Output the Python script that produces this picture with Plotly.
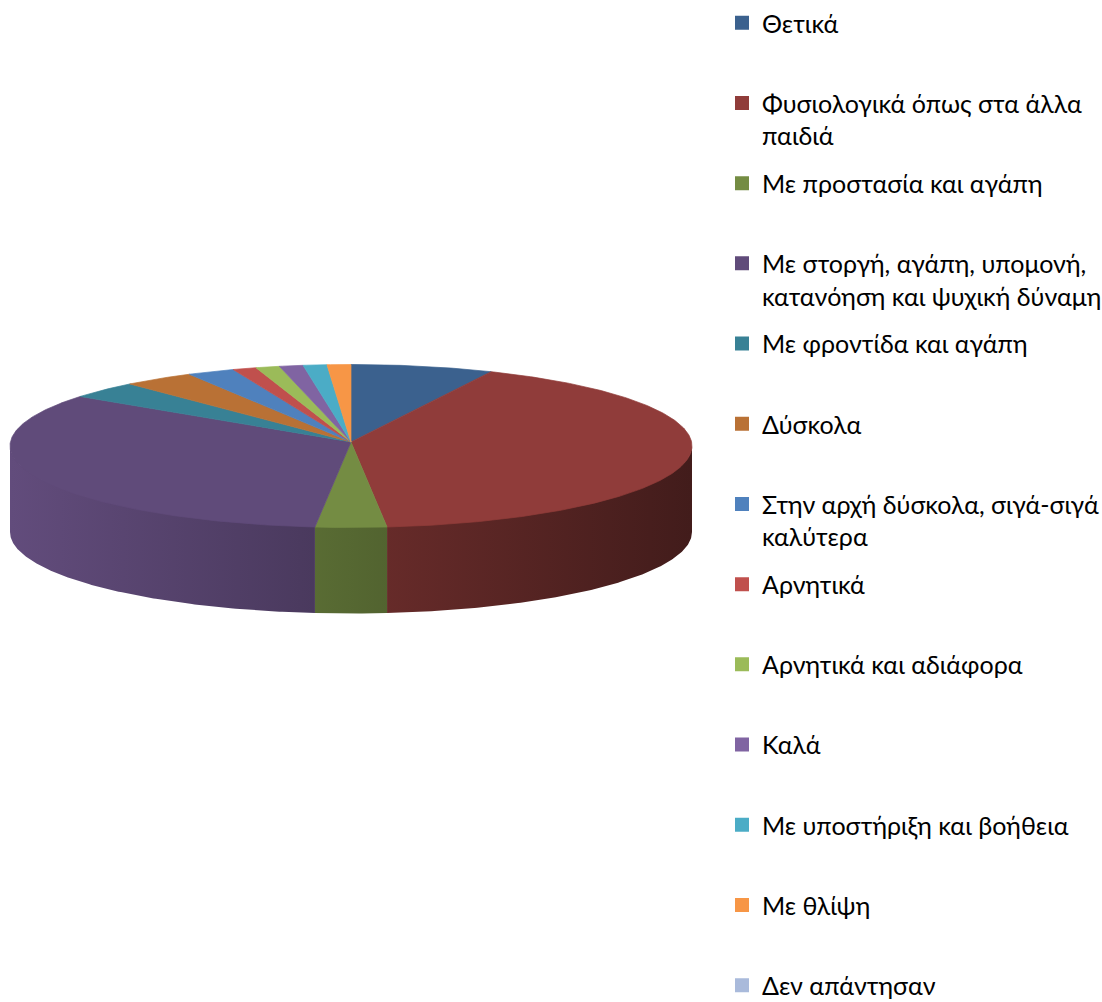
import numpy as np
import plotly.graph_objects as go

# Responses (clockwise from 12 o'clock) and their counts
labels = [
    "Θετικά",
    "Φυσιολογικά όπως στα άλλα<br>παιδιά",
    "Με προστασία και αγάπη",
    "Με στοργή, αγάπη, υπομονή,<br>κατανόηση και ψυχική δύναμη",
    "Με φροντίδα και αγάπη",
    "Δύσκολα",
    "Στην αρχή δύσκολα, σιγά-σιγά<br>καλύτερα",
    "Αρνητικά",
    "Αρνητικά και αδιάφορα",
    "Καλά",
    "Με υποστήριξη και βοήθεια",
    "Με θλίψη",
    "Δεν απάντησαν",
]
counts = [6, 37, 3, 30, 3, 3, 2, 1, 1, 1, 1, 1, 0]
colors = [
    "#3b618e", "#903c3a", "#748c43", "#604b7a", "#388195", "#b97135",
    "#4f81bd", "#c0504d", "#9bbb59", "#8064a2", "#4bacc6", "#f79646", "#a9badb",
]

# Pie geometry in page pixels (y grows downwards)
W, H = 1102, 1002
CX, CY = 351.0, 446.0      # centre of the top ellipse
RX, RY = 341.0, 81.5       # ellipse radii
APEX_Y = 442.0             # where the slices meet
DEPTH = 86.0               # thickness of the disc

FONT = "Lato, 'Noto Sans', sans-serif"


def hex_rgb(c):
    c = c.lstrip("#")
    return tuple(int(c[i:i + 2], 16) for i in (0, 2, 4))


def shade(c, f):
    r, g, b = hex_rgb(c)
    return "rgb({},{},{})".format(*(max(0, min(255, int(round(v * f)))) for v in (r, g, b)))


def rim(t_deg, dy=0.0):
    t = np.radians(t_deg)
    return CX + RX * np.sin(t), CY - RY * np.cos(t) + dy


total = float(sum(counts))
ends = np.cumsum(counts) / total * 360.0
starts = np.concatenate([[0.0], ends[:-1]])

fig = go.Figure()

# Side walls: only the front half (90..270 deg) is visible
for c, a0, a1 in zip(colors, starts, ends):
    s0, s1 = max(a0, 90.0), min(a1, 270.0)
    if s1 <= s0:
        continue
    ts = np.linspace(s0, s1, max(4, int((s1 - s0) * 2)))
    xt, yt = rim(ts, -1.0)
    xb, yb = rim(ts[::-1], DEPTH)
    fig.add_trace(go.Scatter(
        x=np.concatenate([xt, xb]), y=np.concatenate([yt, yb]),
        mode="lines", fill="toself", line=dict(width=0),
        fillgradient=dict(
            type="horizontal",
            colorscale=[[0, shade(c, 1.02)], [1, shade(c, 0.46)]],
            start=CX - RX, stop=CX + RX,
        ),
        hoverinfo="skip", showlegend=False,
    ))

# Top faces
for c, a0, a1, lab, n in zip(colors, starts, ends, labels, counts):
    if a1 <= a0:
        continue
    ts = np.linspace(a0, a1, max(3, int((a1 - a0) * 2)))
    xe, ye = rim(ts)
    fig.add_trace(go.Scatter(
        x=np.concatenate([[CX], xe, [CX]]), y=np.concatenate([[APEX_Y], ye, [APEX_Y]]),
        mode="lines", fill="toself", fillcolor=c,
        line=dict(width=0.7, color=c),
        hoverinfo="text", text=f"{lab.replace('<br>', ' ')}: {n}",
        showlegend=False,
    ))

# Legend: one entry per response, evenly spaced down the right side
LEG_X = 722.0
LEG_TOP = 0.0
LEG_STEP = 80.2
for i, (lab, c) in enumerate(zip(labels, colors)):
    key = "legend" if i == 0 else f"legend{i + 1}"
    fig.add_trace(go.Scatter(
        x=[None], y=[None], mode="markers", name=lab,
        marker=dict(symbol="square", size=14, color=c, line=dict(width=0)),
        legend=key, showlegend=True,
    ))
    fig.layout[key] = dict(
        x=LEG_X / W, y=1 - (LEG_TOP + i * LEG_STEP) / H,
        xanchor="left", yanchor="top",
        font=dict(family=FONT, size=25, color="#000000"),
        bgcolor="rgba(0,0,0,0)", borderwidth=0,
        valign="top", itemclick=False, itemdoubleclick=False,
    )

fig.update_layout(
    width=W, height=H,
    margin=dict(l=0, r=0, t=0, b=0, autoexpand=False),
    paper_bgcolor="white", plot_bgcolor="white",
    xaxis=dict(range=[0, W], visible=False, fixedrange=True),
    yaxis=dict(range=[H, 0], visible=False, fixedrange=True),
    font=dict(family=FONT),
)

fig.write_html("out.html")
